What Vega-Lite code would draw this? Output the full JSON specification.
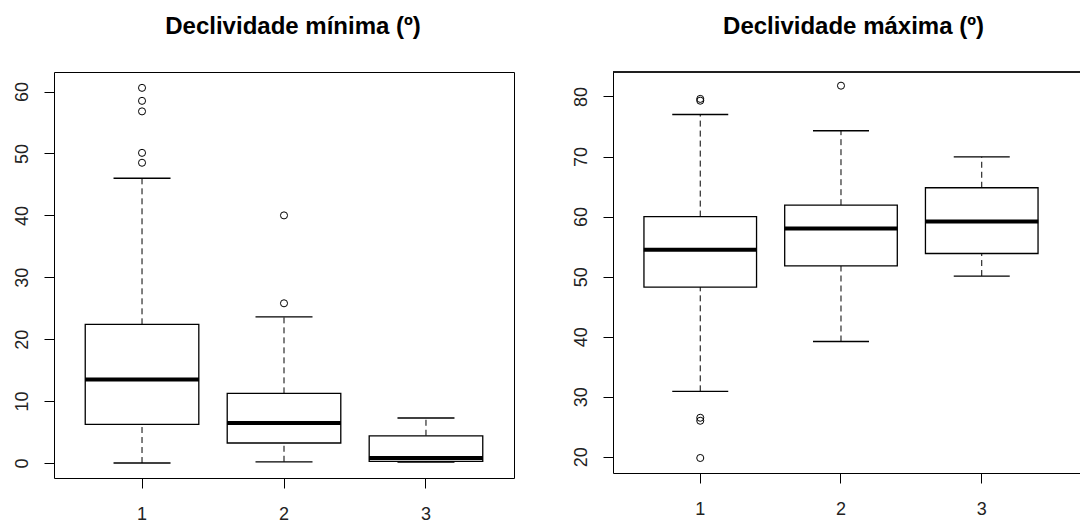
{
  "$schema": "https://vega.github.io/schema/vega-lite/v6.json",
  "padding": {"left": 12, "top": 14, "right": 0, "bottom": 0},
  "background": "white",
  "config": {
    "font": "Liberation Sans",
    "axis": {"labelFont": "Liberation Sans", "labelFontSize": 18, "labelColor": "#222", "tickColor": "black", "domainColor": "black", "tickSize": 10, "tickWidth": 1, "domainWidth": 1, "grid": false},
    "axisY": {"labelAngle": -90, "labelAlign": "center", "labelBaseline": "alphabetic", "labelPadding": 17},
    "axisX": {"labelAngle": 0, "labelPadding": 17},
    "title": {"font": "Liberation Sans", "fontSize": 24, "fontWeight": "bold", "color": "black", "frame": "group", "anchor": "middle"},
    "concat": {"spacing": 57}
  },
  "datasets": {
    "minBox": [
      {"g": "1", "lo": 0, "q1": 6.25, "med": 13.5, "q3": 22.4, "hi": 46.0},
      {"g": "2", "lo": 0.2, "q1": 3.23, "med": 6.46, "q3": 11.25, "hi": 23.6},
      {"g": "3", "lo": 0.15, "q1": 0.27, "med": 0.8, "q3": 4.4, "hi": 7.27}
    ],
    "minOut": [
      {"g": "1", "v": 60.6}, {"g": "1", "v": 58.5}, {"g": "1", "v": 56.8}, {"g": "1", "v": 50.1}, {"g": "1", "v": 48.5},
      {"g": "2", "v": 40.0}, {"g": "2", "v": 25.8}
    ],
    "maxBox": [
      {"g": "1", "lo": 30.9, "q1": 48.26, "med": 54.47, "q3": 60.0, "hi": 77.0},
      {"g": "2", "lo": 39.2, "q1": 51.8, "med": 58.0, "q3": 61.9, "hi": 74.3},
      {"g": "3", "lo": 50.1, "q1": 53.85, "med": 59.2, "q3": 64.8, "hi": 69.96}
    ],
    "maxOut": [
      {"g": "1", "v": 79.3}, {"g": "1", "v": 79.6}, {"g": "1", "v": 26.0}, {"g": "1", "v": 26.5}, {"g": "1", "v": 19.8},
      {"g": "2", "v": 81.8}
    ]
  },
  "hconcat": [
    {
      "title": {"text": "Declividade mínima (º)", "dx": 9, "offset": 33},
      "width": 460,
      "height": 406,
      "view": {"stroke": "black", "strokeWidth": 1},
      "layer": [
        {
          "data": {"name": "minBox"},
          "mark": {"type": "rule", "strokeDash": [6, 4], "color": "black", "strokeWidth": 1},
          "encoding": {
            "x": {"field": "g", "type": "ordinal", "title": null, "scale": {"type": "band", "domain": ["1", "2", "3"], "paddingInner": 0, "paddingOuter": 0.12}, "axis": {"title": null, "labelAngle": 0, "labelPadding": 17, "domain": false}},
            "y": {"field": "q3", "type": "quantitative", "title": null, "scale": {"domain": [-2.42, 63.16], "nice": false, "zero": false}, "axis": {"title": null, "values": [0, 10, 20, 30, 40, 50, 60], "labelAngle": -90, "labelAlign": "center", "labelBaseline": "alphabetic", "labelPadding": 17, "domain": false}},
            "y2": {"field": "hi"}
          }
        },
        {
          "data": {"name": "minBox"},
          "mark": {"type": "rule", "strokeDash": [6, 4], "color": "black", "strokeWidth": 1},
          "encoding": {
            "x": {"field": "g", "type": "ordinal", "title": null, "scale": {"type": "band", "domain": ["1", "2", "3"], "paddingInner": 0, "paddingOuter": 0.12}, "axis": {"title": null, "labelAngle": 0, "labelPadding": 17, "domain": false}},
            "y": {"field": "lo", "type": "quantitative", "title": null, "scale": {"domain": [-2.42, 63.16], "nice": false, "zero": false}, "axis": {"title": null, "values": [0, 10, 20, 30, 40, 50, 60], "labelAngle": -90, "labelAlign": "center", "labelBaseline": "alphabetic", "labelPadding": 17, "domain": false}},
            "y2": {"field": "q1"}
          }
        },
        {
          "data": {"name": "minBox"},
          "mark": {"type": "bar", "width": {"band": 0.8}, "fill": "white", "stroke": "black", "strokeWidth": 1.3, "opacity": 1},
          "encoding": {
            "x": {"field": "g", "type": "ordinal", "title": null, "scale": {"type": "band", "domain": ["1", "2", "3"], "paddingInner": 0, "paddingOuter": 0.12}, "axis": {"title": null, "labelAngle": 0, "labelPadding": 17, "domain": false}},
            "y": {"field": "q1", "type": "quantitative", "title": null, "scale": {"domain": [-2.42, 63.16], "nice": false, "zero": false}, "axis": {"title": null, "values": [0, 10, 20, 30, 40, 50, 60], "labelAngle": -90, "labelAlign": "center", "labelBaseline": "alphabetic", "labelPadding": 17, "domain": false}},
            "y2": {"field": "q3"}
          }
        },
        {
          "data": {"name": "minBox"},
          "mark": {"type": "tick", "orient": "horizontal", "size": 114, "thickness": 4, "color": "black", "opacity": 1},
          "encoding": {
            "x": {"field": "g", "type": "ordinal", "title": null, "scale": {"type": "band", "domain": ["1", "2", "3"], "paddingInner": 0, "paddingOuter": 0.12}, "axis": {"title": null, "labelAngle": 0, "labelPadding": 17, "domain": false}},
            "y": {"field": "med", "type": "quantitative", "title": null, "scale": {"domain": [-2.42, 63.16], "nice": false, "zero": false}, "axis": {"title": null, "values": [0, 10, 20, 30, 40, 50, 60], "labelAngle": -90, "labelAlign": "center", "labelBaseline": "alphabetic", "labelPadding": 17, "domain": false}}
          }
        },
        {
          "data": {"name": "minBox"},
          "mark": {"type": "tick", "orient": "horizontal", "size": 57, "thickness": 1.3, "color": "black", "opacity": 1},
          "encoding": {
            "x": {"field": "g", "type": "ordinal", "title": null, "scale": {"type": "band", "domain": ["1", "2", "3"], "paddingInner": 0, "paddingOuter": 0.12}, "axis": {"title": null, "labelAngle": 0, "labelPadding": 17, "domain": false}},
            "y": {"field": "hi", "type": "quantitative", "title": null, "scale": {"domain": [-2.42, 63.16], "nice": false, "zero": false}, "axis": {"title": null, "values": [0, 10, 20, 30, 40, 50, 60], "labelAngle": -90, "labelAlign": "center", "labelBaseline": "alphabetic", "labelPadding": 17, "domain": false}}
          }
        },
        {
          "data": {"name": "minBox"},
          "mark": {"type": "tick", "orient": "horizontal", "size": 57, "thickness": 1.3, "color": "black", "opacity": 1},
          "encoding": {
            "x": {"field": "g", "type": "ordinal", "title": null, "scale": {"type": "band", "domain": ["1", "2", "3"], "paddingInner": 0, "paddingOuter": 0.12}, "axis": {"title": null, "labelAngle": 0, "labelPadding": 17, "domain": false}},
            "y": {"field": "lo", "type": "quantitative", "title": null, "scale": {"domain": [-2.42, 63.16], "nice": false, "zero": false}, "axis": {"title": null, "values": [0, 10, 20, 30, 40, 50, 60], "labelAngle": -90, "labelAlign": "center", "labelBaseline": "alphabetic", "labelPadding": 17, "domain": false}}
          }
        },
        {
          "data": {"name": "minOut"},
          "mark": {"type": "point", "shape": "circle", "filled": false, "stroke": "black", "strokeWidth": 1, "size": 50, "opacity": 1},
          "encoding": {
            "x": {"field": "g", "type": "ordinal", "title": null, "scale": {"type": "band", "domain": ["1", "2", "3"], "paddingInner": 0, "paddingOuter": 0.12}, "axis": {"title": null, "labelAngle": 0, "labelPadding": 17, "domain": false}},
            "y": {"field": "v", "type": "quantitative", "title": null, "scale": {"domain": [-2.42, 63.16], "nice": false, "zero": false}, "axis": {"title": null, "values": [0, 10, 20, 30, 40, 50, 60], "labelAngle": -90, "labelAlign": "center", "labelBaseline": "alphabetic", "labelPadding": 17, "domain": false}}
          }
        }
      ]
    },
    {
      "title": {"text": "Declividade máxima (º)", "dx": 7, "offset": 33},
      "width": 467,
      "height": 401,
      "view": {"stroke": null},
      "layer": [
        {
          "data": {"name": "maxBox"},
          "mark": {"type": "rule", "strokeDash": [6, 4], "color": "black", "strokeWidth": 1},
          "encoding": {
            "x": {"field": "g", "type": "ordinal", "title": null, "scale": {"type": "band", "domain": ["1", "2", "3"], "paddingInner": 0, "paddingOuter": 0.159, "align": 0.377}, "axis": {"title": null, "labelAngle": 0, "labelPadding": 17, "domain": true}},
            "y": {"field": "q3", "type": "quantitative", "title": null, "scale": {"domain": [17.3, 84.08], "nice": false, "zero": false}, "axis": {"title": null, "values": [20, 30, 40, 50, 60, 70, 80], "labelAngle": -90, "labelAlign": "center", "labelBaseline": "alphabetic", "labelPadding": 17, "domain": true}},
            "y2": {"field": "hi"}
          }
        },
        {
          "data": {"name": "maxBox"},
          "mark": {"type": "rule", "strokeDash": [6, 4], "color": "black", "strokeWidth": 1},
          "encoding": {
            "x": {"field": "g", "type": "ordinal", "title": null, "scale": {"type": "band", "domain": ["1", "2", "3"], "paddingInner": 0, "paddingOuter": 0.159, "align": 0.377}, "axis": {"title": null, "labelAngle": 0, "labelPadding": 17, "domain": true}},
            "y": {"field": "lo", "type": "quantitative", "title": null, "scale": {"domain": [17.3, 84.08], "nice": false, "zero": false}, "axis": {"title": null, "values": [20, 30, 40, 50, 60, 70, 80], "labelAngle": -90, "labelAlign": "center", "labelBaseline": "alphabetic", "labelPadding": 17, "domain": true}},
            "y2": {"field": "q1"}
          }
        },
        {
          "data": {"name": "maxBox"},
          "mark": {"type": "bar", "width": {"band": 0.8}, "fill": "white", "stroke": "black", "strokeWidth": 1.3, "opacity": 1},
          "encoding": {
            "x": {"field": "g", "type": "ordinal", "title": null, "scale": {"type": "band", "domain": ["1", "2", "3"], "paddingInner": 0, "paddingOuter": 0.159, "align": 0.377}, "axis": {"title": null, "labelAngle": 0, "labelPadding": 17, "domain": true}},
            "y": {"field": "q1", "type": "quantitative", "title": null, "scale": {"domain": [17.3, 84.08], "nice": false, "zero": false}, "axis": {"title": null, "values": [20, 30, 40, 50, 60, 70, 80], "labelAngle": -90, "labelAlign": "center", "labelBaseline": "alphabetic", "labelPadding": 17, "domain": true}},
            "y2": {"field": "q3"}
          }
        },
        {
          "data": {"name": "maxBox"},
          "mark": {"type": "tick", "orient": "horizontal", "size": 113, "thickness": 4, "color": "black", "opacity": 1},
          "encoding": {
            "x": {"field": "g", "type": "ordinal", "title": null, "scale": {"type": "band", "domain": ["1", "2", "3"], "paddingInner": 0, "paddingOuter": 0.159, "align": 0.377}, "axis": {"title": null, "labelAngle": 0, "labelPadding": 17, "domain": true}},
            "y": {"field": "med", "type": "quantitative", "title": null, "scale": {"domain": [17.3, 84.08], "nice": false, "zero": false}, "axis": {"title": null, "values": [20, 30, 40, 50, 60, 70, 80], "labelAngle": -90, "labelAlign": "center", "labelBaseline": "alphabetic", "labelPadding": 17, "domain": true}}
          }
        },
        {
          "data": {"name": "maxBox"},
          "mark": {"type": "tick", "orient": "horizontal", "size": 56, "thickness": 1.3, "color": "black", "opacity": 1},
          "encoding": {
            "x": {"field": "g", "type": "ordinal", "title": null, "scale": {"type": "band", "domain": ["1", "2", "3"], "paddingInner": 0, "paddingOuter": 0.159, "align": 0.377}, "axis": {"title": null, "labelAngle": 0, "labelPadding": 17, "domain": true}},
            "y": {"field": "hi", "type": "quantitative", "title": null, "scale": {"domain": [17.3, 84.08], "nice": false, "zero": false}, "axis": {"title": null, "values": [20, 30, 40, 50, 60, 70, 80], "labelAngle": -90, "labelAlign": "center", "labelBaseline": "alphabetic", "labelPadding": 17, "domain": true}}
          }
        },
        {
          "data": {"name": "maxBox"},
          "mark": {"type": "tick", "orient": "horizontal", "size": 56, "thickness": 1.3, "color": "black", "opacity": 1},
          "encoding": {
            "x": {"field": "g", "type": "ordinal", "title": null, "scale": {"type": "band", "domain": ["1", "2", "3"], "paddingInner": 0, "paddingOuter": 0.159, "align": 0.377}, "axis": {"title": null, "labelAngle": 0, "labelPadding": 17, "domain": true}},
            "y": {"field": "lo", "type": "quantitative", "title": null, "scale": {"domain": [17.3, 84.08], "nice": false, "zero": false}, "axis": {"title": null, "values": [20, 30, 40, 50, 60, 70, 80], "labelAngle": -90, "labelAlign": "center", "labelBaseline": "alphabetic", "labelPadding": 17, "domain": true}}
          }
        },
        {
          "data": {"name": "maxOut"},
          "mark": {"type": "point", "shape": "circle", "filled": false, "stroke": "black", "strokeWidth": 1, "size": 50, "opacity": 1},
          "encoding": {
            "x": {"field": "g", "type": "ordinal", "title": null, "scale": {"type": "band", "domain": ["1", "2", "3"], "paddingInner": 0, "paddingOuter": 0.159, "align": 0.377}, "axis": {"title": null, "labelAngle": 0, "labelPadding": 17, "domain": true}},
            "y": {"field": "v", "type": "quantitative", "title": null, "scale": {"domain": [17.3, 84.08], "nice": false, "zero": false}, "axis": {"title": null, "values": [20, 30, 40, 50, 60, 70, 80], "labelAngle": -90, "labelAlign": "center", "labelBaseline": "alphabetic", "labelPadding": 17, "domain": true}}
          }
        },
        {
          "data": {"name": "maxBox"},
          "mark": {"type": "rule", "color": "black", "strokeWidth": 1},
          "encoding": {
            "y": {"datum": 84.08, "type": "quantitative", "title": null, "scale": {"domain": [17.3, 84.08], "nice": false, "zero": false}, "axis": {"title": null, "values": [20, 30, 40, 50, 60, 70, 80], "labelAngle": -90, "labelAlign": "center", "labelBaseline": "alphabetic", "labelPadding": 17, "domain": true}}
          }
        }
      ]
    }
  ]
}
